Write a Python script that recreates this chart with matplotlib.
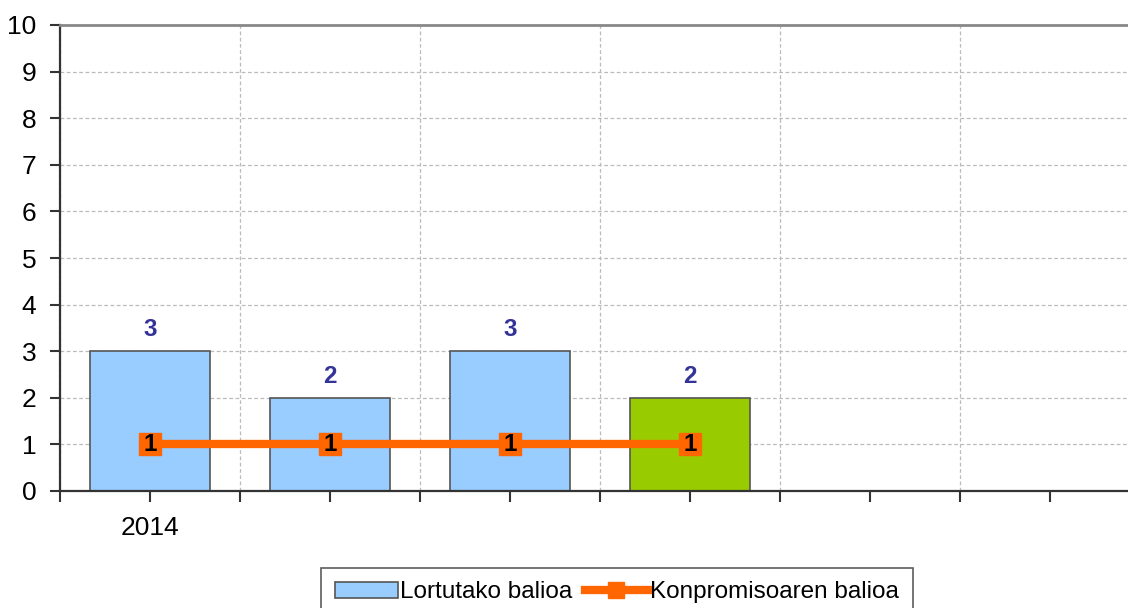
import matplotlib.pyplot as plt
from matplotlib.ticker import FixedLocator

plt.rcParams['font.family'] = ['Liberation Sans', 'DejaVu Sans']

# Data
categories = ['2014', '', '', '', '', '']
lortutako = [3, 2, 3, 2]
bar_colors = ['#99CCFF', '#99CCFF', '#99CCFF', '#99CC00']
konpromiso = [1, 1, 1, 1]

fig = plt.figure(figsize=(11.28, 6.08), dpi=100)
ax = fig.add_axes([60 / 1128, 1 - 491 / 608, 1080 / 1128, 466 / 608])

x = list(range(len(lortutako)))
bars = ax.bar(x, lortutako, width=0.667, color=bar_colors, edgecolor='#555555',
              linewidth=1.2, zorder=2, label='Lortutako balioa')
for xi, v in zip(x, lortutako):
    ax.annotate(str(v), (xi, v), xytext=(0, 7), textcoords='offset points',
                ha='center', va='bottom', fontsize=17.5, fontweight='bold', color='#333399')

line, = ax.plot(x, konpromiso, color='#FF6600', linewidth=6, marker='s', markersize=16,
                zorder=3, label='Konpromisoaren balioa')
for xi, v in zip(x, konpromiso):
    ax.text(xi, v, str(v), ha='center', va='center', fontsize=17.5,
            fontweight='bold', color='black', zorder=4)

ax.set_xlim(-0.5, len(categories) - 0.5)
ax.set_ylim(0, 10)
ax.set_yticks(range(0, 11))
ax.xaxis.set_major_locator(FixedLocator([i - 0.5 for i in range(len(categories) + 1)]))
ax.xaxis.set_minor_locator(FixedLocator(range(len(categories))))
ax.set_xticklabels([])
ax.set_xticklabels(categories, minor=True)

ax.tick_params(axis='y', labelsize=19, length=7, width=1.5, color='#333333', pad=10)
ax.tick_params(axis='x', which='both', labelsize=19, length=8, width=1.5,
               color='#333333', pad=10)

ax.grid(True, which='major', color='#BBBBBB', linestyle=(0, (3, 2)), linewidth=0.9, zorder=0)
ax.set_axisbelow(True)

for side in ['left', 'bottom']:
    ax.spines[side].set_color('#333333')
    ax.spines[side].set_linewidth(1.6)
ax.spines['top'].set_color('#888888')
ax.spines['top'].set_linewidth(2)
ax.spines['right'].set_visible(False)

leg = fig.legend([bars, line], ['Lortutako balioa', 'Konpromisoaren balioa'],
                 loc='upper center', bbox_to_anchor=(617 / 1128, 1 - 568 / 608),
                 ncol=2, fontsize=17.5, frameon=True, fancybox=False, edgecolor='#333333',
                 handlelength=2.6, handleheight=0.6, handletextpad=0.1, columnspacing=0.5,
                 borderpad=0.55, borderaxespad=0, markerscale=0.7)
leg.get_frame().set_linewidth(1.2)

fig.savefig('out.png', dpi=100)
